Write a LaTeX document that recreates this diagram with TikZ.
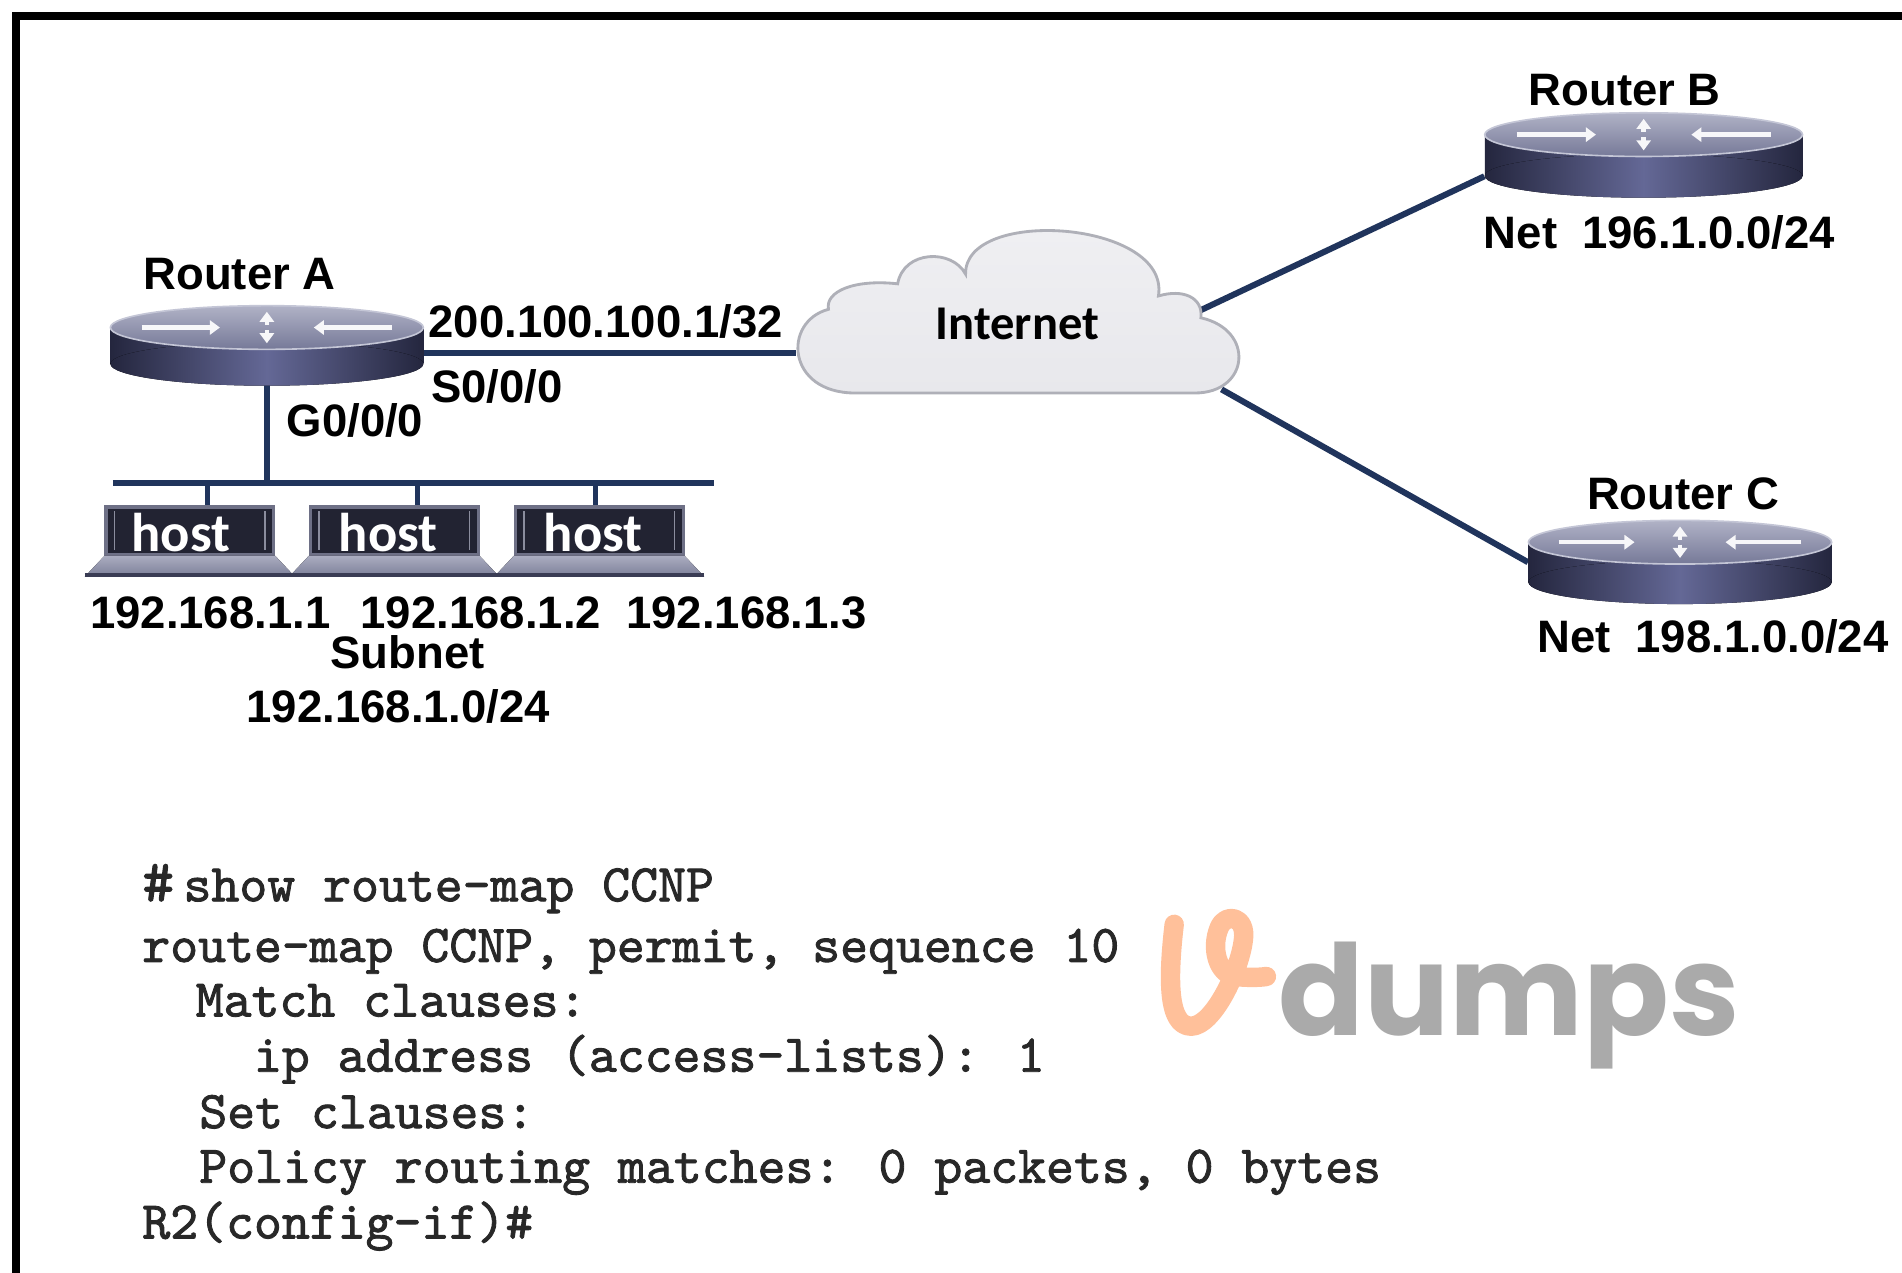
\documentclass[tikz,border=0pt]{standalone}
\usepackage{fontspec}
\setmainfont{Liberation Sans}
\newfontfamily\calfont{Carlito}
\newfontfamily\codefont{lmmono10-regular.otf}[FakeBold=1.6]
\newfontfamily\markfont{Poppins}
\usetikzlibrary{arrows.meta}

\definecolor{wirecol}{RGB}{32,52,92}
\definecolor{rdark}{RGB}{36,38,62}
\definecolor{rmid}{RGB}{100,104,150}
\definecolor{rtopA}{RGB}{176,178,198}
\definecolor{rtopB}{RGB}{118,121,152}
\definecolor{rimcol}{RGB}{196,198,214}
\definecolor{peach}{RGB}{255,192,154}
\definecolor{wmgray}{RGB}{170,170,170}
\definecolor{codeink}{RGB}{40,40,40}
\definecolor{cloudedge}{RGB}{175,176,184}
\definecolor{scrdark}{RGB}{34,35,50}
\definecolor{scredge}{RGB}{110,112,134}
\definecolor{baseA}{RGB}{170,172,192}
\definecolor{baseB}{RGB}{124,127,152}
\definecolor{baseedge}{RGB}{58,60,84}

\tikzset{
  wire/.style={draw=wirecol, line width=3pt},
  drop/.style={draw=wirecol, line width=2.4pt},
  rbox/.style={inner sep=0pt, draw=none},
  lbl/.style={font=\bfseries\fontsize{22.5}{27}\selectfont, inner sep=0pt, anchor=base west},
  codeline/.style={font=\codefont\fontsize{26.3}{30}\selectfont, text=codeink, inner sep=0pt, anchor=base west},
  screen/.style={draw=scredge, line width=1.6pt, fill=scrdark, minimum width=83pt, minimum height=23.4pt, inner sep=0pt},
  hosttxt/.style={font=\calfont\bfseries\fontsize{27}{30}\selectfont, text=white, anchor=base, inner sep=0pt},
  hostbase/.style={top color=baseA, bottom color=baseB},
  ricon/.style={draw=white!90!rtopA, line width=2.2pt, -{Triangle[length=5pt,width=7pt]}},
}

% cylinder router body: centre x, centre y of the top face, half width, side height
\newcommand{\ciscorouter}[4]{%
  \fill[left color=rdark, right color=rdark, middle color=rmid] (#1-#3,#2) rectangle (#1+#3,#2+#4);
  \fill[left color=rdark, right color=rdark, middle color=rmid] (#1,#2+#4) ellipse [x radius=#3, y radius=18];
  \fill[top color=rtopA, bottom color=rtopB] (#1,#2) ellipse [x radius=#3, y radius=18];
  \draw[rimcol, line width=0.8pt] (#1,#2) ellipse [x radius=#3, y radius=18];
  \draw[ricon] (#1-0.8*#3,#2) -- (#1-0.3*#3,#2);
  \draw[ricon] (#1+0.8*#3,#2) -- (#1+0.3*#3,#2);
  \draw[ricon] (#1,#2-2) -- (#1,#2-13);
  \draw[ricon] (#1,#2+2) -- (#1,#2+13);
}

\begin{document}
\begin{tikzpicture}[x=0.6pt,y=-0.6pt]
\clip (0,0) rectangle (1568,1049);
\fill[white] (0,0) rectangle (1568,1049);

% outer frame (top and left edges)
\draw[line width=4pt, black] (13.4,1070) -- (13.4,13.4) -- (1590,13.4);

% router placeholders
\node[rbox, minimum width=154.8pt, minimum height=18pt] (rA) at (220,285) {};
\node[rbox, minimum width=157.2pt, minimum height=20.4pt] (rB) at (1355,128) {};
\node[rbox, minimum width=150pt, minimum height=19.8pt] (rC) at (1385,463.5) {};

% host screens
\node[screen] (h1) at (156.5,437.5) {};
\node[screen] (h2) at (325,437.5) {};
\node[screen] (h3) at (494,437.5) {};

% attachment points on the cloud and the LAN bus
\coordinate (cloudW) at (656,291);
\coordinate (cloudNE) at (985,258);
\coordinate (cloudSE) at (1007,321);
\coordinate (busL) at (93,398);
\coordinate (busR) at (589,398);
\coordinate (t1) at (171,398);
\coordinate (t2) at (344,398);
\coordinate (t3) at (491,398);

% links
\draw[wire] (rA.east |- cloudW) -- (cloudW);
\draw[wire] (cloudNE) -- (rB.south west);
\draw[wire] (cloudSE) -- (rC.west);
\draw[wire] (rA.south) -- (rA.south |- busL);
\draw[wire] (busL) -- (busR);
\draw[drop] (t1) -- (t1 |- h1.north);
\draw[drop] (t2) -- (t2 |- h2.north);
\draw[drop] (t3) -- (t3 |- h3.north);

% cloud
\path[draw=cloudedge, line width=1.4pt, top color={rgb,255:red,240;green,240;blue,243}, middle color=white, bottom color={rgb,255:red,232;green,232;blue,236}]
  (705,324) -- (985,324)
  .. controls (1030,324) and (1035,272) .. (990,262)
  .. controls (992,245) and (975,238) .. (955,244)
  .. controls (965,182) and (795,170) .. (796,226)
  .. controls (785,205) and (745,206) .. (740,234)
  .. controls (705,230) and (680,240) .. (683,255)
  .. controls (645,265) and (648,324) .. (705,324) -- cycle;
\node[font=\calfont\bfseries\fontsize{24}{28}\selectfont, anchor=base west, inner sep=0pt] (inet) at (771,280) {Internet};

% routers
\ciscorouter{220}{270}{129}{30}
\ciscorouter{1355}{111}{131}{34}
\ciscorouter{1385}{447}{125}{33}

% host laptops: keyboard bases and screen details
\foreach \h in {h1,h2,h3}{
  \fill[hostbase] (\h.south west) -- (\h.south east) -- ([xshift=9.6pt,yshift=-10.2pt]\h.south east) -- ([xshift=-9.6pt,yshift=-10.2pt]\h.south west) -- cycle;
  \draw[baseedge, line width=2pt] ([xshift=-9.6pt,yshift=-9.4pt]\h.south west) -- ([xshift=9.6pt,yshift=-9.4pt]\h.south east);
  \draw[scredge!80, line width=0.8pt] ([xshift=5pt,yshift=-3pt]\h.north west) -- ([xshift=5pt,yshift=3pt]\h.south west);
  \draw[scredge!80, line width=0.8pt] ([xshift=-5pt,yshift=-3pt]\h.north east) -- ([xshift=-5pt,yshift=3pt]\h.south east);
}
\node[hosttxt] (ht1) at (149,455) {host};
\node[hosttxt] (ht2) at (320,455) {host};
\node[hosttxt] (ht3) at (489,455) {host};

% labels
\node[lbl] (lA) at (118,239) {Router A};
\node[lbl] (ipS) at (353,278) {200.100.100.1/32};
\node[lbl] (ifS) at (355,332) {S0/0/0};
\node[lbl] (ifG) at (236,360) {G0/0/0};
\node[lbl] (ip1) at (74,518) {192.168.1.1};
\node[lbl] (ip2) at (297,518) {192.168.1.2};
\node[lbl] (ip3) at (516,518) {192.168.1.3};
\node[lbl] (sub) at (272,551) {Subnet};
\node[lbl] (subnet) at (203,596) {192.168.1.0/24};
\node[lbl] (lB) at (1260,86.6) {Router B};
\node[lbl] (netB) at (1223,205) {Net\hspace{12.4pt}196.1.0.0/24};
\node[lbl] (lC) at (1308,420) {Router C};
\node[lbl] (netC) at (1267,538) {Net\hspace{12.4pt}198.1.0.0/24};

% route-map output
\node[codeline, font=\codefont\fontsize{30}{32}\selectfont] (c0) at (117,743) {\#};
\node[codeline] (c1) at (151,743) {show route-map CCNP};
\node[codeline] (c2) at (117,793) {route-map CCNP, permit, sequence 10};
\node[codeline] (c3) at (161,838) {Match clauses:};
\node[codeline] (c4) at (209,883.5) {ip address (access-lists): 1};
\node[codeline] (c5) at (164,930) {Set clauses:};
\node[codeline] (c6) at (164,975) {Policy routing matches: 0 packets, 0 bytes};
\node[codeline] (c7) at (117,1021) {R2(config-if)\#};

% vdumps mark
\draw[peach, line width=9.6pt, line cap=round, line join=round]
  (968,762) .. controls (963,805) and (962,846) .. (982,846)
  .. controls (1000,846) and (1022,800) .. (1025,775)
  .. controls (1028,755) and (1010,752) .. (1005,765)
  .. controls (998,782) and (1004,803) .. (1018,805)
  .. controls (1028,806) and (1038,806) .. (1044,805);
\node[font=\markfont\bfseries\fontsize{62.5}{66}\selectfont, text=wmgray, anchor=base west, inner sep=0pt] (wm) at (1054,854) {dumps};
\end{tikzpicture}
\end{document}
